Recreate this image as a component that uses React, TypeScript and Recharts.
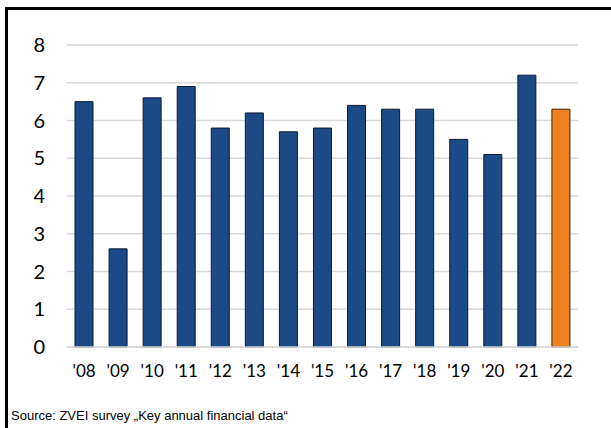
import { Bar, BarChart, CartesianGrid, Cell, XAxis, YAxis } from 'recharts';

const years = ["'08", "'09", "'10", "'11", "'12", "'13", "'14", "'15", "'16", "'17", "'18", "'19", "'20", "'21", "'22"];
const values = [6.5, 2.6, 6.6, 6.9, 5.8, 6.2, 5.7, 5.8, 6.4, 6.3, 6.3, 5.5, 5.1, 7.2, 6.3];
const yTicks = [0, 1, 2, 3, 4, 5, 6, 7, 8];
const highlightYear = "'22";

const data = years.map((year, i) => ({ year, value: values[i] }));

const BLUE = '#1c4a86';
const ORANGE = '#f0801f';

export default function App() {
  return (
    <div
      style={{
        position: 'fixed',
        left: 0,
        top: 0,
        width: 611,
        height: 428,
        background: '#fff',
        overflow: 'hidden',
      }}
    >
      <div
        style={{
          position: 'absolute',
          left: 5,
          top: 7,
          width: 700,
          height: 500,
          borderLeft: '3px solid #000',
          borderTop: '3px solid #000',
        }}
      />
      <BarChart
        width={611}
        height={428}
        data={data}
        barSize={18}
        margin={{ top: 45, right: 33, left: 7, bottom: 51 }}
        style={{ position: 'absolute', left: 0, top: 0 }}
      >
        <CartesianGrid vertical={false} stroke="#d9d9d9" strokeWidth={1.5} />
        <XAxis
          dataKey="year"
          tickLine={false}
          axisLine={{ stroke: '#d9d9d9', strokeWidth: 1.5 }}
          tick={{ fontSize: 17, fill: '#000', fontFamily: 'Lato, sans-serif' }}
          tickMargin={12}
          height={30}
          interval={0}
        />
        <YAxis
          domain={[0, 8]}
          ticks={yTicks}
          tickLine={false}
          axisLine={false}
          tick={{ fontSize: 20, fill: '#000', fontFamily: 'Lato, sans-serif' }}
          tickMargin={16}
          width={60}
        />
        <Bar dataKey="value" isAnimationActive={false} stroke="#0b1a30" strokeWidth={1}>
          {data.map((d) => (
            <Cell
              key={d.year}
              fill={d.year === highlightYear ? ORANGE : BLUE}
              stroke={d.year === highlightYear ? '#3a2008' : '#0b1a30'}
            />
          ))}
        </Bar>
      </BarChart>
      <div
        style={{
          position: 'absolute',
          left: 11,
          top: 408,
          fontFamily: '"Liberation Sans", Arial, sans-serif',
          fontSize: 13,
          color: '#000',
          whiteSpace: 'nowrap',
        }}
      >
        Source: ZVEI survey „Key annual financial data“
      </div>
    </div>
  );
}
